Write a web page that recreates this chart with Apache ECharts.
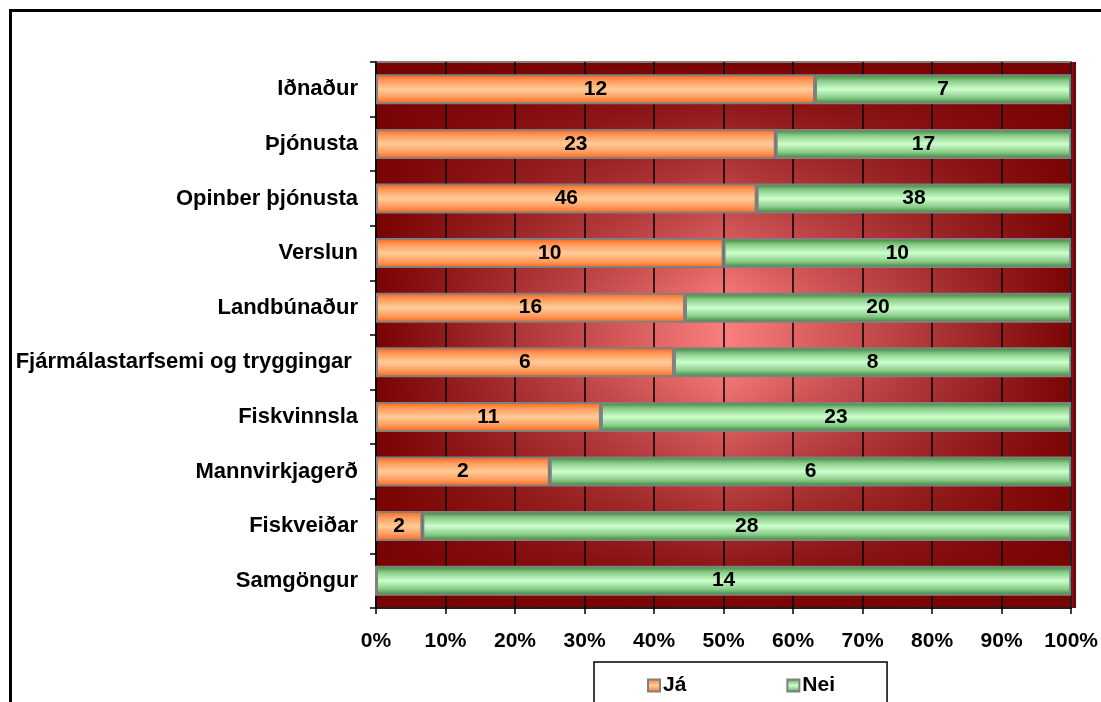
<!DOCTYPE html>
<html>
<head>
<meta charset="utf-8">
<script src="https://cdn.jsdelivr.net/npm/echarts@6/dist/echarts.min.js"></script>
<style>
  html, body { margin: 0; padding: 0; background: #fff; }
  #main { width: 1101px; height: 702px; }
</style>
</head>
<body>
<div id="main"></div>
<script>
    var categories = ['Iðnaður', 'Þjónusta', 'Opinber þjónusta', 'Verslun', 'Landbúnaður',
        'Fjármálastarfsemi og tryggingar ', 'Fiskvinnsla', 'Mannvirkjagerð', 'Fiskveiðar', 'Samgöngur'];
    var jaCounts = [12, 23, 46, 10, 16, 6, 11, 2, 2, 0];
    var neiCounts = [7, 17, 38, 10, 20, 8, 23, 6, 28, 14];
    var xTicks = [0, 10, 20, 30, 40, 50, 60, 70, 80, 90, 100];

    var myChart = echarts.init(document.getElementById('main'));

    // hlutfall af heild i hverjum flokki
    function toPct(counts, idx) {
        var total = jaCounts[idx] + neiCounts[idx];
        return total ? counts[idx] / total * 100 : 0;
    }
    var jaData = [], neiData = [];
    for (var i = 0; i < categories.length; i++) {
        jaData.push({ value: toPct(jaCounts, i), count: jaCounts[i] });
        neiData.push({ value: toPct(neiCounts, i), count: neiCounts[i] });
    }

    function stripe(edge, mid, center) {
        return new echarts.graphic.LinearGradient(0, 0, 0, 1, [
            { offset: 0, color: edge },
            { offset: 0.22, color: mid },
            { offset: 0.5, color: center },
            { offset: 0.78, color: mid },
            { offset: 1, color: edge }
        ]);
    }

    var font = '"Liberation Sans", Arial, sans-serif';
    var gridPos = { left: 376, right: 25, top: 62, bottom: 94 };

    var labelOpt = {
        show: true,
        position: 'inside',
        color: '#000',
        fontWeight: 'bold',
        fontSize: 21,
        fontFamily: font,
        formatter: function (p) {
            return p.data.count ? p.data.count : '';
        }
    };

    myChart.setOption({
        backgroundColor: '#fff',
        animation: false,
        graphic: [{
            type: 'rect',
            left: 8, top: 8,
            shape: { width: 1200, height: 800 },
            style: { fill: 'none', stroke: '#000', lineWidth: 3 },
            silent: true
        }],
        legend: {
            left: 594,
            top: 662,
            width: 292,
            data: ['Já', 'Nei'],
            itemWidth: 12,
            itemHeight: 12,
            itemGap: 100,
            padding: [13, 52, 30, 53],
            borderColor: '#000',
            borderWidth: 1.5,
            icon: 'rect',
            textStyle: { color: '#000', fontWeight: 'bold', fontSize: 21, fontFamily: font, padding: [0, 0, 0, -2] }
        },
        grid: [Object.assign({
            show: true,
            borderWidth: 0,
            backgroundColor: new echarts.graphic.LinearGradient(0, 0, 1, 0, [
                { offset: 0, color: '#780303' },
                { offset: 0.5, color: '#fa7e7e' },
                { offset: 1, color: '#780303' }
            ])
        }, gridPos), Object.assign({
            show: true,
            borderColor: '#808080',
            borderWidth: 2,
            backgroundColor: new echarts.graphic.LinearGradient(0, 0, 0, 1, [
                { offset: 0, color: 'rgba(120,3,3,1)' },
                { offset: 0.45, color: 'rgba(120,3,3,0)' },
                { offset: 0.55, color: 'rgba(120,3,3,0)' },
                { offset: 1, color: 'rgba(120,3,3,1)' }
            ])
        }, gridPos)],
        xAxis: [{
            gridIndex: 0, type: 'value', min: 0, max: 100, show: false
        }, {
            gridIndex: 1,
            type: 'value',
            min: xTicks[0],
            max: xTicks[xTicks.length - 1],
            interval: 10,
            axisLine: { show: true, lineStyle: { color: '#000', width: 1.5 } },
            axisTick: { show: true, length: 6, lineStyle: { color: '#000', width: 1.5 } },
            splitLine: { show: true, lineStyle: { color: '#000', width: 1.5 } },
            axisLabel: {
                margin: 23,
                color: '#000',
                fontWeight: 'bold',
                fontSize: 21,
                fontFamily: font,
                formatter: '{value}%'
            }
        }],
        yAxis: [{
            gridIndex: 0, type: 'category', data: categories, inverse: true, show: false
        }, {
            gridIndex: 1,
            type: 'category',
            data: categories,
            inverse: true,
            axisLine: { show: true, lineStyle: { color: '#000', width: 1.5 } },
            axisTick: { show: true, length: 6, lineStyle: { color: '#000', width: 1.5 } },
            axisLabel: {
                margin: 18,
                color: '#000',
                fontWeight: 'bold',
                fontSize: 22,
                fontFamily: font
            }
        }],
        series: [{
            name: 'Já',
            type: 'bar',
            xAxisIndex: 1,
            yAxisIndex: 1,
            stack: 'total',
            barWidth: 30,
            data: jaData,
            itemStyle: {
                color: stripe('#ff6010', '#ff9b5c', '#ffcc99'),
                borderColor: '#808080',
                borderWidth: 2
            },
            label: labelOpt
        }, {
            name: 'Nei',
            type: 'bar',
            xAxisIndex: 1,
            yAxisIndex: 1,
            stack: 'total',
            barWidth: 30,
            data: neiData,
            itemStyle: {
                color: stripe('#2a802a', '#8acb8a', '#ccffcc'),
                borderColor: '#808080',
                borderWidth: 2
            },
            label: labelOpt
        }]
    });
</script>
</body>
</html>
